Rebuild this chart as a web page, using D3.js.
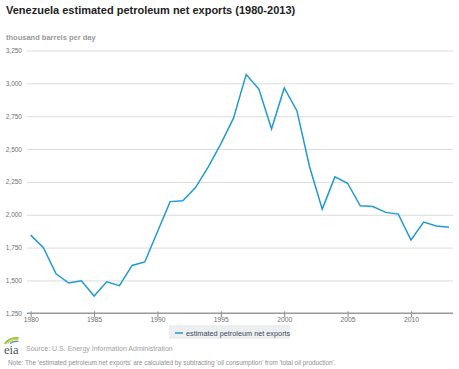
<!DOCTYPE html>
<html>
<head>
<meta charset="utf-8">
<script src="https://cdn.jsdelivr.net/npm/d3@7"></script>
<style>
  html, body { margin: 0; padding: 0; background: #fff; }
  svg { display: block; font-family: "Liberation Sans", Arial, Helvetica, sans-serif; }
</style>
</head>
<body>
<svg id="chart" width="459" height="369"></svg>
<script>
const years = [1980,1981,1982,1983,1984,1985,1986,1987,1988,1989,1990,1991,1992,1993,1994,1995,1996,
  1997,1998,1999,2000,2001,2002,2003,2004,2005,2006,2007,2008,2009,2010,2011,2012,2013];
const netExports = [1845,1750,1551,1480,1497,1381,1490,1460,1614,1641,1870,2100,2106,2207,2362,2540,2735,
  3068,2957,2652,2965,2792,2365,2043,2288,2240,2068,2063,2018,2005,1808,1944,1914,1904];
const yTicks = [1250,1500,1750,2000,2250,2500,2750,3000,3250];
const xTicks = [1980,1985,1990,1995,2000,2005,2010];
const seriesName = "estimated petroleum net exports";
const titleText = "Venezuela estimated petroleum net exports (1980-2013)";
const unitText = "thousand barrels per day";
const sourceText = "Source: U.S. Energy Information Administration";
const noteText = "Note: The 'estimated petroleum net exports' are calculated by subtracting 'oil consumption' from 'total oil production'.";

const svg = d3.select("#chart");
const plotL = 27, plotR = 453;
const x = d3.scaleLinear().domain([1980, 2013]).range([30.7, 449]);
const y = d3.scaleLinear().domain([1250, 3250]).range([313.3, 50.5]);

// title
svg.append("text").attr("x", 6).attr("y", 14)
  .attr("font-size", 11).attr("font-weight", "bold").attr("fill", "#222")
  .text(titleText);
svg.append("text").attr("x", 6).attr("y", 40)
  .attr("font-size", 7.5).attr("font-weight", "bold").attr("fill", "#999")
  .text(unitText);

// y gridlines & labels
const yAxis = d3.axisLeft(y).tickValues(yTicks).tickSize(-(plotR - plotL))
  .tickFormat(d3.format(","));
const gy = svg.append("g").attr("transform", `translate(${plotL},0)`).call(yAxis);
gy.select(".domain").remove();
gy.selectAll(".tick line").attr("stroke", "#dcdcdc").attr("stroke-width", 1);
gy.selectAll(".tick text").attr("x", -5).attr("font-size", 6.5).attr("fill", "#6f6f6f")
  .attr("font-family", "Liberation Sans, Arial, sans-serif");
gy.selectAll(".tick").filter(d => d === 1250).select("line").remove();

// x axis
const xAxis = d3.axisBottom(x).tickValues(xTicks).tickSize(4).tickFormat(d3.format("d"));
const gx = svg.append("g").attr("transform", `translate(0,${y(1250)})`).call(xAxis);
gx.select(".domain").remove();
gx.append("line").attr("x1", plotL).attr("x2", plotR).attr("y1", 0).attr("y2", 0)
  .attr("stroke", "#999").attr("stroke-width", 1.5);
gx.selectAll(".tick line").attr("stroke", "#888").attr("y1", -2);
gx.selectAll(".tick text").attr("y", 4).attr("font-size", 6.8).attr("fill", "#6f6f6f")
  .attr("font-family", "Liberation Sans, Arial, sans-serif");

// line
const data = years.map((yr, i) => ({ yr, v: netExports[i] }));
svg.append("path").datum(data)
  .attr("fill", "none").attr("stroke", "#1f9ad6").attr("stroke-width", 1.5)
  .attr("stroke-linejoin", "miter")
  .attr("d", d3.line().x(d => x(d.yr)).y(d => y(d.v)));

// legend
const lg = svg.append("g");
lg.append("rect").attr("x", 169).attr("y", 325).attr("width", 121).attr("height", 14)
  .attr("fill", "#eceef0");
lg.append("line").attr("x1", 175).attr("x2", 183).attr("y1", 333).attr("y2", 333)
  .attr("stroke", "#1f9ad6").attr("stroke-width", 1.5);
lg.append("text").attr("x", 186).attr("y", 335.5).attr("font-size", 7.3).attr("fill", "#3d4c5c")
  .text(seriesName);

// eia logo
const logo = svg.append("g");
logo.append("path").attr("d", "M5,344 Q9,337 18.5,338").attr("fill", "none")
  .attr("stroke", "#8cc63f").attr("stroke-width", 1.8);
logo.append("path").attr("d", "M7.5,343.5 Q11,339 18.5,339.8").attr("fill", "none")
  .attr("stroke", "#f2c230").attr("stroke-width", 1.3);
logo.append("path").attr("d", "M10,343.5 Q13,341 18.5,341.5").attr("fill", "none")
  .attr("stroke", "#2a9fd8").attr("stroke-width", 1.1);
logo.append("text").attr("x", 4).attr("y", 353.5).attr("font-size", 12.5)
  .attr("font-family", "Liberation Serif, Times New Roman, serif").attr("fill", "#4a5560")
  .text("eia");

svg.append("text").attr("x", 26).attr("y", 350.5).attr("font-size", 7).attr("fill", "#a0a0a0")
  .text(sourceText);
svg.append("text").attr("x", 8).attr("y", 365).attr("font-size", 6.4).attr("fill", "#909090")
  .text(noteText);
</script>
</body>
</html>
